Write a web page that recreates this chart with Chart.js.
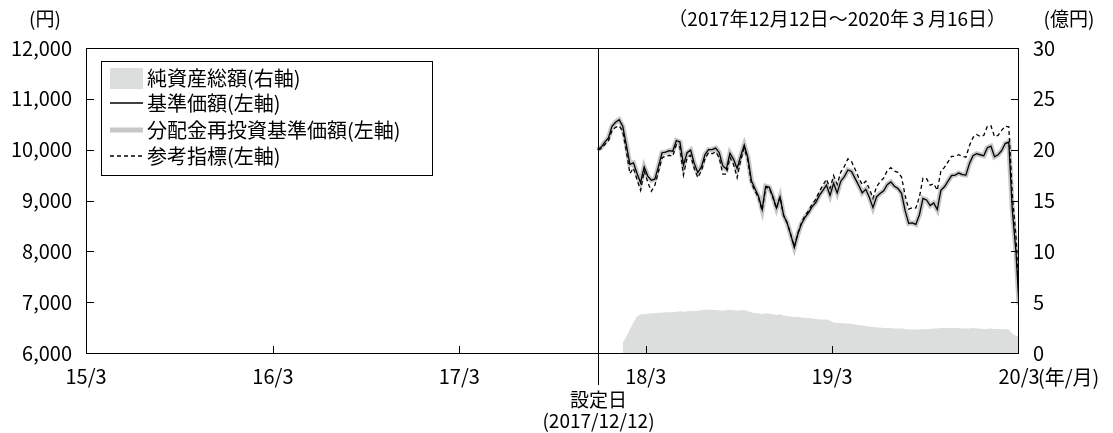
<!DOCTYPE html>
<html>
<head>
<meta charset="utf-8">
<script src="https://cdn.jsdelivr.net/npm/chart.js@4.4.0/dist/chart.umd.min.js"></script>
<style>
  html, body { margin: 0; padding: 0; background: #fff; }
</style>
</head>
<body>
<canvas id="myChart" width="1113" height="433"></canvas>
<script>
const tickDates = ['2015-03-16', '2016-03-16', '2017-03-16', '2018-03-16', '2019-03-16', '2020-03-16'];
const tickLabels = ['15/3', '16/3', '17/3', '18/3', '19/3', '20/3'];
const leftTicks = [6000, 7000, 8000, 9000, 10000, 11000, 12000];
const rightTicks = [0, 5, 10, 15, 20, 25, 30];
const firstDate = '2017-12-12';
const lastDate = '2020-03-16';

// weekly readings from 2017/12/12, last value is 2020/3/16
const nav = [
  10000, 10050, 10150, 10230, 10460, 10540, 10590, 10460, 10100, 9710,
  9740, 9530, 9350, 9660, 9480, 9400, 9420, 9670, 9940, 9950,
  9980, 9970, 10180, 10150, 9700, 9940, 9990, 9730, 9550, 9660,
  9900, 10000, 10000, 10030, 9940, 9680, 9620, 9930, 9810, 9630,
  9870, 10090, 9850, 9390, 9230, 9080, 8820, 9280, 9260, 9080,
  8850, 9070, 8710, 8560, 8330, 8080, 8340, 8540, 8670, 8760,
  8880, 8960, 9100, 9200, 9300, 9100, 9340, 9150, 9380, 9470,
  9600, 9570, 9435, 9300, 9150, 9220, 9060, 8860, 9070, 9140,
  9190, 9310, 9365, 9280, 9235, 9140, 8800, 8550, 8560, 8530,
  8720, 9040, 9010, 8900, 8950, 8820, 9200, 9270, 9380, 9490,
  9500, 9540, 9510, 9500, 9730, 9880, 9920, 9900, 9880, 10040,
  10070, 9860, 9900, 9980, 10120, 10150, 8800, 8000,
  6950
];

// no distributions, so the reinvested line sits on the NAV line
const reinvestNav = nav.slice();

const benchmark = [
  10000, 10020, 10100, 10170, 10380, 10440, 10470, 10360, 9980, 9530,
  9640, 9410, 9200, 9580, 9360, 9180, 9300, 9570, 9840, 9870,
  9890, 9870, 10100, 10050, 9500, 9840, 9890, 9630, 9450, 9580,
  9820, 9940, 9920, 9960, 9840, 9520, 9520, 9850, 9710, 9450,
  9790, 10030, 9790, 9340, 9190, 9050, 8800, 9260, 9240, 9060,
  8840, 9070, 8710, 8560, 8330, 8090, 8360, 8560, 8700, 8800,
  8930, 9020, 9180, 9300, 9420, 9240, 9490, 9320, 9560, 9670,
  9820, 9770, 9615, 9450, 9310, 9380, 9230, 9040, 9270, 9370,
  9440, 9590, 9645, 9580, 9555, 9460, 9100, 8830, 8860, 8850,
  9070, 9440, 9430, 9300, 9330, 9200, 9580, 9650, 9760, 9870,
  9870, 9900, 9870, 9850, 10080, 10240, 10300, 10260, 10280, 10460,
  10470, 10260, 10280, 10380, 10460, 10450, 9100, 8300,
  7100
];

// 億円
const netAssets = [
  null, null, null, null, null, null, null, 1.0, 1.6, 2.3,
  3.0, 3.6, 3.8, 3.8, 3.85, 3.9, 3.9, 3.95, 3.95, 4.0,
  4.0, 4.0, 4.05, 4.1, 4.05, 4.1, 4.15, 4.1, 4.15, 4.2,
  4.25, 4.25, 4.25, 4.2, 4.2, 4.15, 4.2, 4.25, 4.2, 4.15,
  4.2, 4.2, 4.1, 4.0, 3.9, 3.9, 3.8, 3.9, 3.85, 3.8,
  3.75, 3.8, 3.7, 3.65, 3.6, 3.55, 3.55, 3.5, 3.45, 3.45,
  3.4, 3.35, 3.3, 3.3, 3.3, 3.2, 3.0, 2.95, 2.95, 2.9,
  2.9, 2.85, 2.8, 2.75, 2.7, 2.65, 2.6, 2.55, 2.5, 2.5,
  2.45, 2.45, 2.45, 2.4, 2.4, 2.4, 2.35, 2.3, 2.3, 2.3,
  2.3, 2.35, 2.35, 2.35, 2.4, 2.4, 2.45, 2.45, 2.45, 2.45,
  2.45, 2.45, 2.4, 2.4, 2.4, 2.45, 2.4, 2.4, 2.35, 2.35,
  2.4, 2.35, 2.35, 2.35, 2.35, 2.3, 1.9, 1.7,
  1.6
];

const FONT = "'Noto Sans CJK JP', 'Noto Sans', sans-serif";
const AREA = '#dcdddd';
const GRAY = '#c6c7c7';

const day = (s) => Date.UTC(+s.slice(0, 4), +s.slice(5, 7) - 1, +s.slice(8, 10)) / 86400000;
const xs = nav.map((v, i) => i < nav.length - 1 ? day(firstDate) + 7 * i : day(lastDate));
const points = (arr) => arr.map((v, i) => ({ x: xs[i], y: v }));

const frame = {
  id: 'frame',
  afterDraw(chart) {
    const { ctx, chartArea: { left, top, right, bottom }, scales: { x, y, y2 } } = chart;
    ctx.save();
    ctx.strokeStyle = '#000';
    ctx.lineWidth = 1;
    ctx.strokeRect(left + 0.5, top + 0.5, right - left - 1, bottom - top);

    ctx.beginPath();
    leftTicks.slice(1, -1).forEach(v => {
      const py = Math.round(y.getPixelForValue(v)) + 0.5;
      ctx.moveTo(left, py);
      ctx.lineTo(left + 8, py);
    });
    rightTicks.slice(1, -1).forEach(v => {
      const py = Math.round(y2.getPixelForValue(v)) + 0.5;
      ctx.moveTo(right - 8, py);
      ctx.lineTo(right, py);
    });
    tickDates.slice(1, -1).forEach(d => {
      const px = Math.round(x.getPixelForValue(day(d))) + 0.5;
      ctx.moveTo(px, bottom);
      ctx.lineTo(px, bottom - 7);
    });
    // 設定日
    const sx = Math.round(x.getPixelForValue(day(firstDate))) + 0.5;
    ctx.moveTo(sx, top);
    ctx.lineTo(sx, 385);
    ctx.stroke();

    ctx.fillStyle = '#000';
    ctx.font = '19px ' + FONT;
    ctx.textBaseline = 'middle';
    ctx.textAlign = 'center';
    ctx.fillText('設定日', sx, 400);
    ctx.fillText('(2017/12/12)', sx, 421);
    ctx.fillText('(円)', 45, 19);
    ctx.fillText('(億円)', 1069, 19);
    ctx.textAlign = 'right';
    ctx.fillText('（2017年12月12日～2020年３月16日）', 1006, 19);
    ctx.textAlign = 'left';
    ctx.font = '20px ' + FONT;
    ctx.fillText('(年/月)', right + 19, 377);

    // legend
    const lx = 101, ly = 61, lw = 331, lh = 114;
    ctx.fillStyle = '#fff';
    ctx.fillRect(lx, ly, lw, lh);
    ctx.strokeStyle = '#000';
    ctx.lineWidth = 1;
    ctx.strokeRect(lx + 0.5, ly + 0.5, lw, lh);
    const rows = [78, 103, 130, 156];
    const x0 = 110, x1 = 143;
    ctx.fillStyle = AREA;
    ctx.fillRect(x0, rows[0] - 10, x1 - x0, 21);
    ctx.beginPath();
    ctx.strokeStyle = '#000';
    ctx.lineWidth = 1.3;
    ctx.moveTo(x0, rows[1]);
    ctx.lineTo(x1, rows[1]);
    ctx.stroke();
    ctx.beginPath();
    ctx.strokeStyle = GRAY;
    ctx.lineWidth = 5;
    ctx.moveTo(x0, rows[2]);
    ctx.lineTo(x1, rows[2]);
    ctx.stroke();
    ctx.beginPath();
    ctx.strokeStyle = '#000';
    ctx.lineWidth = 1.3;
    ctx.setLineDash([4, 3]);
    ctx.moveTo(x0, rows[3]);
    ctx.lineTo(x1, rows[3]);
    ctx.stroke();
    ctx.setLineDash([]);

    ctx.fillStyle = '#000';
    ctx.font = '20px ' + FONT;
    ctx.textAlign = 'left';
    chart.data.datasets.forEach((ds, i) => ctx.fillText(ds.label, 147, rows[i]));
    ctx.restore();
  }
};

const config = {
  type: 'line',
  data: {
    datasets: [
      {
        label: '純資産総額(右軸)',
        data: points(netAssets),
        yAxisID: 'y2',
        backgroundColor: AREA,
        borderWidth: 0,
        fill: 'origin',
        order: 4,
      },
      {
        label: '基準価額(左軸)',
        data: points(nav),
        yAxisID: 'y',
        borderColor: '#000',
        borderWidth: 1.3,
        order: 2,
      },
      {
        label: '分配金再投資基準価額(左軸)',
        data: points(reinvestNav),
        yAxisID: 'y',
        borderColor: GRAY,
        borderWidth: 5,
        order: 3,
      },
      {
        label: '参考指標(左軸)',
        data: points(benchmark),
        yAxisID: 'y',
        borderColor: '#000',
        borderWidth: 1.3,
        borderDash: [4, 3],
        order: 1,
      },
    ],
  },
  options: {
    responsive: false,
    animation: false,
    devicePixelRatio: 1,
    layout: { padding: { top: 48, left: 0, right: 0, bottom: 0 } },
    elements: {
      point: { radius: 0 },
      line: { tension: 0 }
    },
    scales: {
      x: {
        type: 'linear',
        min: day(tickDates[0]),
        max: day(tickDates[tickDates.length - 1]),
        afterBuildTicks: (s) => { s.ticks = tickDates.map(d => ({ value: day(d) })); },
        afterFit: (s) => { s.height = 80; },
        grid: { display: false, drawTicks: false },
        border: { display: false },
        ticks: {
          autoSkip: false,
          maxRotation: 0,
          padding: 11,
          color: '#000',
          font: { family: FONT, size: 20 },
          callback: (v, i) => tickLabels[i],
        },
      },
      y: {
        position: 'left',
        min: leftTicks[0],
        max: leftTicks[leftTicks.length - 1],
        afterBuildTicks: (s) => { s.ticks = leftTicks.map(v => ({ value: v })); },
        afterFit: (s) => { s.width = 86; },
        grid: { display: false, drawTicks: false },
        border: { display: false },
        ticks: {
          padding: 14,
          color: '#000',
          font: { family: FONT, size: 20 },
          callback: (v) => v.toLocaleString('en-US'),
        },
      },
      y2: {
        position: 'right',
        min: rightTicks[0],
        max: rightTicks[rightTicks.length - 1],
        afterBuildTicks: (s) => { s.ticks = rightTicks.map(v => ({ value: v })); },
        afterFit: (s) => { s.width = 94; },
        grid: { display: false, drawTicks: false },
        border: { display: false },
        ticks: {
          padding: 14,
          color: '#000',
          font: { family: FONT, size: 20 },
        },
      },
    },
    plugins: {
      legend: { display: false },
      tooltip: { enabled: false },
    },
  },
  plugins: [frame],
};

new Chart(document.getElementById('myChart').getContext('2d'), config);
</script>
</body>
</html>
